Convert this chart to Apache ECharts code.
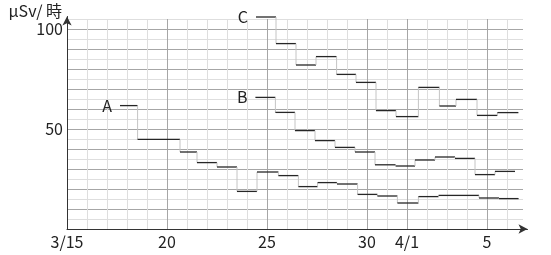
<!DOCTYPE html>
<html><head><meta charset="utf-8">
<script src="https://cdn.jsdelivr.net/npm/echarts@6/dist/echarts.min.js"></script>
<style>html,body{margin:0;padding:0;background:#fff}#c{width:551px;height:255px}</style>
</head><body><div id="c"></div>
<script>
// x = days after 3/15
const xTickDays = [0, 5, 10, 15, 17, 21];
const xTickLabels = ['3/15', '20', '25', '30', '4/1', '5'];
const yTickLabels = [50, 100];

const aStarts = [2.65, 3.53, 5.65, 6.5, 7.5, 8.5, 9.5, 10.57, 11.57, 12.53, 13.5, 14.53, 15.52, 16.52, 17.57, 18.58, 19.6, 20.6, 21.6];
const aValues = [61.7, 44.8, 38.5, 33.2, 31.0, 18.8, 28.5, 26.7, 21.2, 23.2, 22.5, 17.3, 16.5, 13.0, 16.2, 16.8, 16.8, 15.5, 15.2];
const aEnd = 22.58;

const bStarts = [9.42, 10.42, 11.4, 12.4, 13.4, 14.4, 15.4, 16.43, 17.4, 18.4, 19.4, 20.4, 21.4];
const bValues = [65.8, 58.3, 49.2, 44.2, 40.8, 38.5, 32.1, 31.5, 34.5, 36.0, 35.3, 27.2, 28.8];
const bEnd = 22.4;

const cStarts = [9.45, 10.45, 11.45, 12.45, 13.48, 14.45, 15.45, 16.45, 17.57, 18.62, 19.45, 20.5, 21.52];
const cValues = [106, 92.7, 82.0, 86.2, 77.3, 73.3, 59.2, 56.2, 70.8, 61.5, 64.8, 56.8, 58.2];
const cEnd = 22.57;

const seriesDefs = [
  {name: 'A', starts: aStarts, values: aValues, end: aEnd},
  {name: 'B', starts: bStarts, values: bValues, end: bEnd},
  {name: 'C', starts: cStarts, values: cValues, end: cEnd}
];

const FONT = '"Noto Sans CJK JP", "Noto Sans", sans-serif';
const MAJOR = '#a6a6a6', MINOR = '#dedede';

const X_MAX = 22.8, Y_MAX = 105;
const xColors = [];
for (let d = 0; d <= 22; d++) xColors.push(xTickDays.includes(d) ? MAJOR : MINOR);
const yColors = [];
for (let v = 0; v <= Y_MAX; v += 5) yColors.push(v % 10 === 0 ? MAJOR : MINOR);

function makeSeries(def) {
  const data = def.starts.map((s, i) => [s, i + 1 < def.starts.length ? def.starts[i + 1] : def.end, def.values[i]]);
  return {
    type: 'custom', name: def.name, xAxisIndex: 0, yAxisIndex: 0, clip: false,
    encode: {x: [0, 1], y: 2},
    data: data,
    renderItem: function (params, api) {
      const i = params.dataIndex;
      const v = api.value(2);
      const s = api.coord([api.value(0), v]);
      const e = api.coord([api.value(1), v]);
      const children = [];
      if (i > 0) {
        const p = api.coord([api.value(0), def.values[i - 1]]);
        children.push({type: 'line', shape: {x1: p[0], y1: p[1], x2: s[0], y2: s[1]},
          style: {stroke: '#c4c4c4', lineWidth: 1}});
      }
      children.push({type: 'line', shape: {x1: s[0], y1: s[1], x2: e[0], y2: e[1]},
        style: {stroke: '#262626', lineWidth: 1.3}});
      if (i === 0) {
        children.push({type: 'text', x: s[0] - 8, y: s[1],
          style: {text: def.name, align: 'right', verticalAlign: 'middle',
            fontSize: 16, fontFamily: FONT, fill: '#222'}});
      }
      return {type: 'group', children: children};
    }
  };
}

const chart = echarts.init(document.getElementById('c'));
chart.setOption({
  animation: false,
  backgroundColor: '#fff',
  grid: [
    {left: 67, top: 19, width: 456, height: 210},
    {left: 67, top: 16.5, width: 460.5, height: 212.5}
  ],
  xAxis: [
    {type: 'value', gridIndex: 0, min: 0, max: X_MAX, interval: 1,
      axisLine: {show: false}, axisTick: {show: false},
      axisLabel: {margin: 5, color: '#222', fontSize: 16, fontFamily: FONT, showMaxLabel: false,
        formatter: v => { const k = xTickDays.indexOf(v); return k >= 0 ? xTickLabels[k] : ''; }},
      splitLine: {show: true, showMaxLine: false, lineStyle: {color: xColors, width: 1}}},
    {type: 'value', gridIndex: 1, min: 0, max: 1,
      axisLine: {show: true, symbol: ['none', 'arrow'], symbolSize: [7, 9], lineStyle: {color: '#333', width: 1}},
      axisTick: {show: false}, axisLabel: {show: false}, splitLine: {show: false}}
  ],
  yAxis: [
    {type: 'value', gridIndex: 0, min: 0, max: Y_MAX, interval: 5,
      axisLine: {show: false}, axisTick: {show: false},
      axisLabel: {margin: 4, color: '#222', fontSize: 16, fontFamily: FONT,
        formatter: v => yTickLabels.includes(v) ? String(v) : ''},
      splitLine: {show: true, lineStyle: {color: yColors, width: 1}}},
    {type: 'value', gridIndex: 1, min: 0, max: 1,
      axisLine: {show: true, symbol: ['none', 'arrow'], symbolSize: [7, 9], lineStyle: {color: '#333', width: 1}},
      axisTick: {show: false}, axisLabel: {show: false}, splitLine: {show: false}}
  ],
  graphic: [
    {type: 'text', x: 62, y: 11,
      style: {text: 'μSv/ 時', align: 'right', verticalAlign: 'middle', fontSize: 16, fontFamily: FONT, fill: '#222'}}
  ],
  series: seriesDefs.map(makeSeries)
});
</script>
</body></html>
